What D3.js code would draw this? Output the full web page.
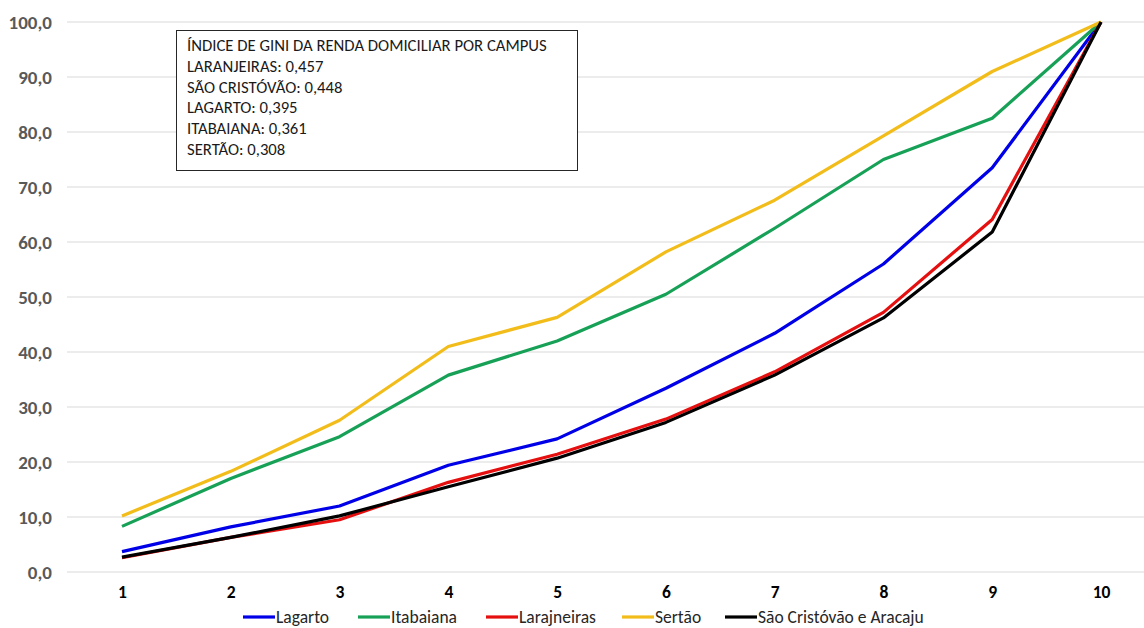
<!DOCTYPE html>
<html>
<head>
<meta charset="utf-8">
<script src="https://cdn.jsdelivr.net/npm/d3@7"></script>
<style>
  html, body { margin: 0; padding: 0; background: #fff; }
  svg { display: block; }
</style>
</head>
<body>
<svg id="chart" width="1144" height="628"></svg>
<script>
// Decis de renda (eixo X)
const deciles = [1, 2, 3, 4, 5, 6, 7, 8, 9, 10];

// Renda acumulada (%) por campus
const lagarto      = [3.7, 8.2, 12.0, 19.4, 24.2, 33.4, 43.4, 56.0, 73.5, 100];
const itabaiana    = [8.3, 17.0, 24.6, 35.8, 42.0, 50.5, 62.5, 75.0, 82.5, 100];
const laranjeiras  = [2.6, 6.3, 9.5, 16.3, 21.4, 27.8, 36.4, 47.2, 64.1, 100];
const sertao       = [10.2, 18.3, 27.6, 41.0, 46.3, 58.2, 67.6, 79.3, 91.0, 100];
const saoCristovao = [2.7, 6.3, 10.2, 15.5, 20.7, 27.2, 35.8, 46.2, 61.8, 100];

const seriesNames  = ["Lagarto", "Itabaiana", "Larajneiras", "Sertão", "São Cristóvão e Aracaju"];
const seriesValues = [lagarto, itabaiana, laranjeiras, sertao, saoCristovao];
const seriesColors = ["#0000e8", "#17a157", "#e50f0f", "#f2bd1a", "#000000"];

const yTicks = [0, 10, 20, 30, 40, 50, 60, 70, 80, 90, 100];

const giniLines = [
  "ÍNDICE DE GINI DA RENDA DOMICILIAR POR CAMPUS",
  "LARANJEIRAS: 0,457",
  "SÃO CRISTÓVÃO: 0,448",
  "LAGARTO: 0,395",
  "ITABAIANA: 0,361",
  "SERTÃO: 0,308"
];

const svg = d3.select("#chart");
const font = "Calibri, Carlito, 'Open Sans', 'Noto Sans', sans-serif";

const x = d3.scalePoint().domain(deciles).range([122, 1101]);
const y = d3.scaleLinear().domain([0, 100]).range([572, 22]);
const gridLeft = 67, gridRight = 1144;

const fmt = v => d3.format(".1f")(v).replace(".", ",");

// Linhas de grade horizontais
svg.append("g")
  .selectAll("line")
  .data(yTicks)
  .join("line")
  .attr("x1", gridLeft).attr("x2", gridRight)
  .attr("y1", d => y(d)).attr("y2", d => y(d))
  .attr("stroke", "#d9d9d9").attr("stroke-width", 1);

// Eixo Y
const yAxis = svg.append("g")
  .attr("transform", `translate(${gridLeft},0)`)
  .call(d3.axisLeft(y).tickValues(yTicks).tickFormat(fmt).tickSize(0).tickPadding(15));
yAxis.select(".domain").remove();
yAxis.selectAll("text")
  .attr("fill", "#595959")
  .style("font-family", font)
  .style("font-size", "19px")
  .style("font-weight", "bold");

// Eixo X
const xAxis = svg.append("g")
  .attr("transform", `translate(0,${y(0)})`)
  .call(d3.axisBottom(x).tickSize(0).tickPadding(14));
xAxis.select(".domain").remove();
xAxis.selectAll("text")
  .attr("fill", "#000")
  .style("font-family", font)
  .style("font-size", "17.5px")
  .style("font-weight", "bold");

// Curvas
const line = d3.line()
  .x((d, i) => x(deciles[i]))
  .y(d => y(d));

svg.append("g")
  .selectAll("path")
  .data(seriesValues)
  .join("path")
  .attr("d", d => line(d))
  .attr("fill", "none")
  .attr("stroke", (d, i) => seriesColors[i])
  .attr("stroke-width", 3.2)
  .attr("stroke-linejoin", "round");

// Caixa com os índices de Gini
const box = svg.append("g");
box.append("rect")
  .attr("x", 176.5).attr("y", 30.5)
  .attr("width", 401).attr("height", 140)
  .attr("fill", "#fff").attr("stroke", "#262626").attr("stroke-width", 1);
box.selectAll("text")
  .data(giniLines)
  .join("text")
  .attr("x", 187)
  .attr("y", (d, i) => 51 + i * 20.8)
  .attr("fill", "#1a1a1a")
  .style("font-family", font)
  .style("font-size", "16.7px")
  .text(d => d);

// Legenda
const legendX = [243, 358, 486, 622, 725];
const legend = svg.append("g")
  .selectAll("g")
  .data(seriesNames)
  .join("g")
  .attr("transform", (d, i) => `translate(${legendX[i]},617)`);
legend.append("line")
  .attr("x1", 0).attr("x2", 32)
  .attr("stroke", (d, i) => seriesColors[i])
  .attr("stroke-width", 3.2);
legend.append("text")
  .attr("x", 33).attr("dy", "0.33em")
  .attr("fill", "#262626")
  .style("font-family", font)
  .style("font-size", "17.5px")
  .text(d => d);
</script>
</body>
</html>
